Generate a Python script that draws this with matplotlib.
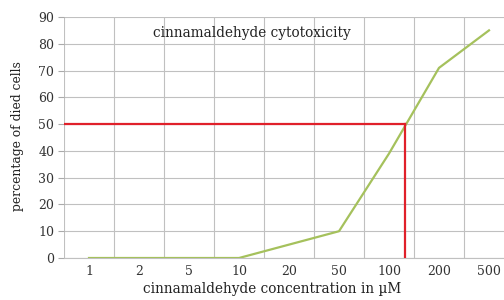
import numpy as np
import matplotlib.pyplot as plt

# concentration categories (uM) and response (% died cells)
conc = ['1', '2', '5', '10', '20', '50', '100', '200', '500']
died = [0, 0, 0, 0, 5, 10, 39, 71, 85]
ic50_pos = 6.32   # position of IC50 between 100 and 200 on category axis
ic50_level = 50

plt.rcParams['font.family'] = ['DejaVu Serif']

fig = plt.figure(figsize=(5.04, 3.0), dpi=100)
ax = fig.add_axes([64 / 504, 42 / 300, 450 / 504, 241 / 300])

x = np.arange(len(conc))
ax.plot(x, died, color='#a5c15c', lw=1.6, zorder=3)

# IC50 marker lines
ax.plot([-0.5, ic50_pos], [ic50_level, ic50_level], color='#e0202a', lw=1.6, zorder=4)
ax.plot([ic50_pos, ic50_pos], [0, ic50_level], color='#e0202a', lw=1.6, zorder=4)

ax.set_xlim(-0.5, len(conc) - 0.5)
ax.set_ylim(0, 90)
ax.set_xticks(x)
ax.set_xticklabels(conc)
ax.set_xticks(np.arange(len(conc) + 1) - 0.5, minor=True)
ax.set_yticks(np.arange(0, 91, 10))

ax.grid(True, which='minor', axis='x', color='#c0c0c0', lw=0.8)
ax.grid(True, which='major', axis='y', color='#c0c0c0', lw=0.8)
ax.tick_params(axis='x', which='both', length=0, labelsize=9, pad=5, labelcolor='#333333')
ax.tick_params(axis='y', length=4, color='#aaaaaa', labelsize=9, pad=3, labelcolor='#333333')

for s in ['top', 'right', 'left']:
    ax.spines[s].set_visible(False)
ax.spines['bottom'].set_color('#c0c0c0')

ax.text(3.26, 84, 'cinnamaldehyde cytotoxicity', fontsize=9.8, ha='center', va='center',
        color='#222222')
fig.text(272 / 504, 1 - 289 / 300, 'cinnamaldehyde concentration in \u00b5M', fontsize=9.8,
         ha='center', va='center', color='#222222')
fig.text(18 / 504, 1 - 136 / 300, 'percentage of died cells', rotation=90, fontsize=8.9,
         ha='center', va='center', color='#222222')

plt.savefig('out.png', dpi=100)
